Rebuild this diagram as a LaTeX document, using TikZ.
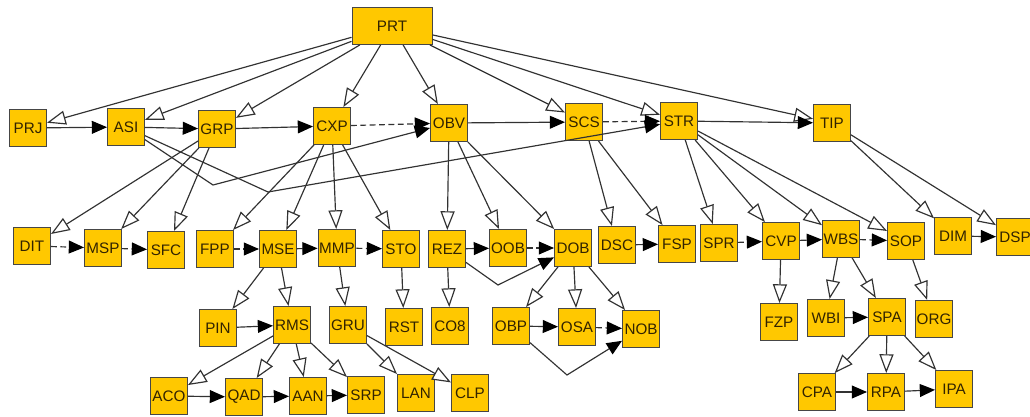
\documentclass[tikz,border=0pt]{standalone}
\usepackage{fontspec}
\setmainfont{Liberation Sans}
\usepackage{xcolor}
\usepackage{tikz}
\usetikzlibrary{arrows.meta}
\definecolor{boxfill}{RGB}{255,200,0}
\definecolor{boxline}{RGB}{70,70,70}
\definecolor{boxtext}{RGB}{50,35,0}
\definecolor{edgecol}{RGB}{50,50,50}
\tikzset{
	cls/.style={draw=boxline, fill=boxfill, text=boxtext, line width=0.8pt,
		minimum width=1.11cm, minimum height=1.11cm, inner sep=1pt,
		font=\fontsize{13}{15}\selectfont},
	part/.style={draw=edgecol, line width=1pt,
		-{Triangle[length=16pt, width=12pt, fill=white]}},
	nxt/.style={draw=edgecol, line width=1pt,
		-{Triangle[length=13pt, width=11pt, color=black]}},
	dnxt/.style={nxt, dash pattern=on 5pt off 3pt},
}
\begin{document}
\begin{tikzpicture}[x=0.03cm, y=-0.03cm]
	\useasboundingbox (0,0) rectangle (1030,416);
	% top
	\node[cls, minimum width=2.4cm] at (392,26) (prt) {PRT};
	% row 1
	\node[cls] at (28,128) (prj) {PRJ};
	\node[cls] at (126,127) (asi) {ASI};
	\node[cls] at (217,129) (grp) {GRP};
	\node[cls] at (332,126) (cxp) {CXP};
	\node[cls] at (449,123) (obv) {OBV};
	\node[cls] at (584,122) (scs) {SCS};
	\node[cls] at (679,121) (str) {STR};
	\node[cls] at (832,123) (tip) {TIP};
	% row 2
	\node[cls] at (32,246) (dit) {DIT};
	\node[cls] at (103,248) (msp) {MSP};
	\node[cls] at (166,250) (sfc) {SFC};
	\node[cls] at (215,249) (fpp) {FPP};
	\node[cls] at (278,249) (mse) {MSE};
	\node[cls] at (337,248) (mmp) {MMP};
	\node[cls] at (401,249) (sto) {STO};
	\node[cls] at (447,249) (rez) {REZ};
	\node[cls] at (508,248) (oob) {OOB};
	\node[cls] at (573,248) (dob) {DOB};
	\node[cls] at (617,245) (dsc) {DSC};
	\node[cls] at (677,244) (fsp) {FSP};
	\node[cls] at (719,243) (spr) {SPR};
	\node[cls] at (781,241) (cvp) {CVP};
	\node[cls] at (841,239) (wbs) {WBS};
	\node[cls] at (906,241) (sop) {SOP};
	\node[cls] at (953,236) (dim) {DIM};
	\node[cls] at (1015,237) (dsp) {DSP};
	% row 3
	\node[cls] at (218,328) (pin) {PIN};
	\node[cls] at (292,325) (rms) {RMS};
	\node[cls] at (348,325) (gru) {GRU};
	\node[cls] at (404,327) (rst) {RST};
	\node[cls] at (450,326) (co8) {CO8};
	\node[cls] at (511,326) (obp) {OBP};
	\node[cls] at (577,327) (osa) {OSA};
	\node[cls] at (641,329) (nob) {NOB};
	\node[cls] at (779,322) (fzp) {FZP};
	\node[cls] at (826,318) (wbi) {WBI};
	\node[cls] at (887,317) (spa) {SPA};
	\node[cls] at (934,319) (org) {ORG};
	% row 4
	\node[cls] at (169,396) (aco) {ACO};
	\node[cls] at (244,397) (qad) {QAD};
	\node[cls] at (308,396) (aan) {AAN};
	\node[cls] at (366,395) (srp) {SRP};
	\node[cls] at (416,393) (lan) {LAN};
	\node[cls] at (470,393) (clp) {CLP};
	\node[cls] at (817,392) (cpa) {CPA};
	\node[cls] at (886,392) (rpa) {RPA};
	\node[cls] at (954,389) (ipa) {IPA};
	% bends
	\coordinate (b1) at (213,185);
	\coordinate (b2) at (268,192);
	\coordinate (b3) at (498,285);
	\coordinate (b4) at (567,375);
	% parts
	\foreach \c in {prj,asi,grp,cxp,obv,scs,str,tip} \draw[part] (prt) -- (\c);
	\foreach \c in {dit,msp,sfc} \draw[part] (grp) -- (\c);
	\foreach \c in {fpp,mse,mmp,sto} \draw[part] (cxp) -- (\c);
	\foreach \c in {rez,oob,dob} \draw[part] (obv) -- (\c);
	\foreach \c in {dsc,fsp} \draw[part] (scs) -- (\c);
	\foreach \c in {spr,cvp,wbs,sop} \draw[part] (str) -- (\c);
	\foreach \c in {dim,dsp} \draw[part] (tip) -- (\c);
	\foreach \c in {pin,rms} \draw[part] (mse) -- (\c);
	\foreach \c in {aco,qad,aan,srp} \draw[part] (rms) -- (\c);
	\foreach \c in {lan,clp} \draw[part] (gru) -- (\c);
	\foreach \c in {obp,osa,nob} \draw[part] (dob) -- (\c);
	\foreach \c in {wbi,spa} \draw[part] (wbs) -- (\c);
	\foreach \c in {cpa,rpa,ipa} \draw[part] (spa) -- (\c);
	\draw[part] (mmp) -- (gru);
	\draw[part] (sto) -- (rst);
	\draw[part] (rez) -- (co8);
	\draw[part] (cvp) -- (fzp);
	\draw[part] (sop) -- (org);
	% order
	\draw[nxt] (prj) -- (asi);
	\draw[nxt] (asi) -- (grp);
	\draw[nxt] (grp) -- (cxp);
	\draw[dnxt] (cxp) -- (obv);
	\draw[nxt] (obv) -- (scs);
	\draw[dnxt] (scs) -- (str);
	\draw[nxt] (str) -- (tip);
	\draw[nxt] (asi) -- (b1) -- (obv);
	\draw[nxt] (asi) -- (b2) -- (str);
	\draw[dnxt] (dit) -- (msp);
	\draw[dnxt] (msp) -- (sfc);
	\draw[dnxt] (fpp) -- (mse);
	\draw[dnxt] (mse) -- (mmp);
	\draw[dnxt] (mmp) -- (sto);
	\draw[nxt] (rez) -- (oob);
	\draw[dnxt] (oob) -- (dob);
	\draw[nxt] (rez) -- (b3) -- (dob);
	\draw[nxt] (dsc) -- (fsp);
	\draw[dnxt] (spr) -- (cvp);
	\draw[nxt] (cvp) -- (wbs);
	\draw[dnxt] (wbs) -- (sop);
	\draw[nxt] (dim) -- (dsp);
	\draw[nxt] (pin) -- (rms);
	\draw[nxt] (aco) -- (qad);
	\draw[nxt] (qad) -- (aan);
	\draw[nxt] (aan) -- (srp);
	\draw[nxt] (obp) -- (osa);
	\draw[dnxt] (osa) -- (nob);
	\draw[nxt] (obp) -- (b4) -- (nob);
	\draw[nxt] (wbi) -- (spa);
	\draw[nxt] (cpa) -- (rpa);
	\draw[nxt] (rpa) -- (ipa);
\end{tikzpicture}
\end{document}
